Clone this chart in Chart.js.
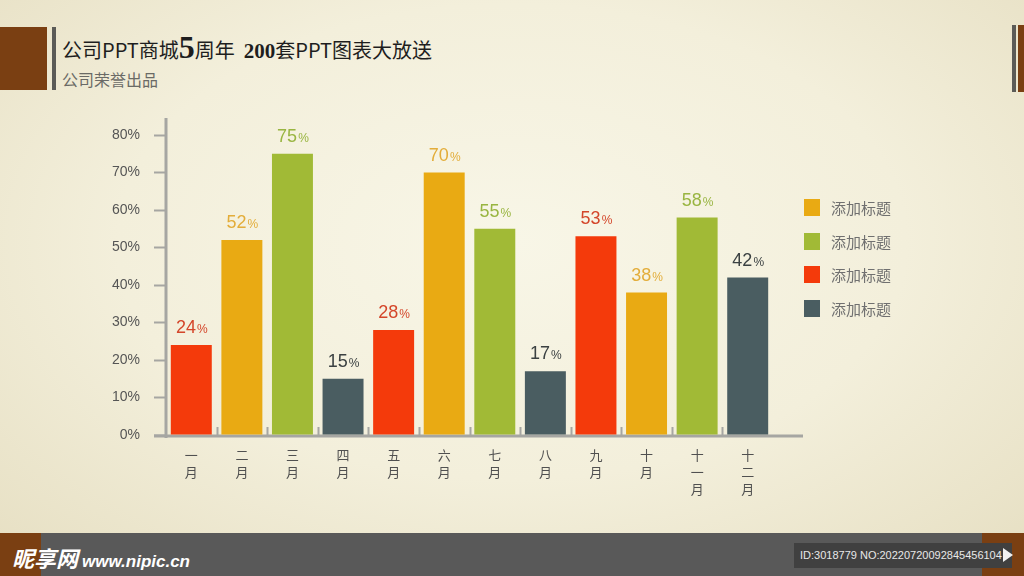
<!DOCTYPE html>
<html>
<head>
<meta charset="utf-8">
<title>公司PPT商城5周年</title>
<script src="https://cdn.jsdelivr.net/npm/chart.js@4/dist/chart.umd.min.js"></script>
<style>
  body {
    margin: 0;
    width: 1024px;
    height: 576px;
    overflow: hidden;
    position: relative;
    font-family: "Noto Sans CJK SC", "Noto Sans", sans-serif;
    background: radial-gradient(ellipse 70% 75% at 50% 42%, #f8f6e7 0%, #f3efdb 55%, #e7e0c4 100%);
  }
  .block { position: absolute; }
  #brandL { left: 0; top: 27px; width: 47px; height: 63px; background: #7a3f12; }
  #barL { left: 52px; top: 27px; width: 4px; height: 63px; background: #5b5b57; }
  #barR { left: 1012px; top: 25px; width: 4px; height: 67px; background: #5b5b57; }
  #brandR { left: 1018px; top: 25px; width: 6px; height: 67px; background: #7a3f12; }
  #title {
    position: absolute; left: 62px; top: 32px;
    font-size: 20px; color: #1e1e1e; white-space: pre; line-height: 30px;
  }
  #title .big { font-family: "Liberation Serif", serif; font-weight: bold; font-size: 32px; }
  #title .num { font-family: "Liberation Serif", serif; font-weight: bold; font-size: 21px; }
  #subtitle {
    position: absolute; left: 62px; top: 67px;
    font-size: 16px; color: #6a6a66;
  }
  #chart { position: absolute; left: 0; top: 0; }
  #legend { position: absolute; left: 804px; top: 199px; }
  .item { height: 33.5px; display: flex; align-items: flex-start; }
  .sw { width: 16px; height: 17px; margin-right: 11px; }
  .item span { font-size: 15px; color: #707070; line-height: 17px; }
  #footer { position: absolute; left: 0; top: 533px; width: 1024px; height: 43px; background: #595959; }
  #footL { position: absolute; left: 0; top: 0; width: 41px; height: 43px; background: #7a3f12; }
  #footR { position: absolute; right: 0; top: 0; width: 42px; height: 43px; background: #7a3f12; }
  #mark {
    position: absolute; left: 12px; top: 8px; color: #fff; white-space: nowrap;
    font-weight: bold; font-size: 22px; font-style: italic;
  }
  #mark i { font-family: "Liberation Sans", sans-serif; font-size: 17px; margin-left: 4px; }
  #idbox {
    position: absolute; left: 794px; top: 10px; width: 218px; height: 25px;
    background: #404040; color: #e8e8e8; font-family: "Liberation Sans Narrow", "Liberation Sans", sans-serif;
    font-size: 11px; line-height: 25px; padding-left: 6px; box-sizing: border-box; white-space: nowrap; overflow: hidden;
  }
  #arrow {
    position: absolute; left: 1003px; top: 15px; width: 0; height: 0;
    border-top: 7px solid transparent; border-bottom: 7px solid transparent; border-left: 10px solid #f2f2f2;
  }
</style>
</head>
<body>
<div class="block" id="brandL"></div>
<div class="block" id="barL"></div>
<div class="block" id="barR"></div>
<div class="block" id="brandR"></div>
<div id="title">公司PPT商城<span class="big">5</span>周年  <span class="num">200</span>套PPT图表大放送</div>
<div id="subtitle">公司荣誉出品</div>
<canvas id="chart" width="1024" height="533"></canvas>
<div id="legend"></div>
<div id="footer">
  <div id="footL"></div>
  <div id="footR"></div>
  <div id="mark">昵享网<i>www.nipic.cn</i></div>
  <div id="idbox">ID:3018779 NO:20220720092845456104</div>
  <div id="arrow"></div>
</div>
<script>
// months, stacked one character per line
const months = [
  ['一', '月'], ['二', '月'], ['三', '月'], ['四', '月'], ['五', '月'], ['六', '月'],
  ['七', '月'], ['八', '月'], ['九', '月'], ['十', '月'], ['十', '一', '月'], ['十', '二', '月']
];
const rates = [24, 52, 75, 15, 28, 70, 55, 17, 53, 38, 58, 42];
const yTicks = [0, 10, 20, 30, 40, 50, 60, 70, 80];

// colour cycle: red, orange, green, slate
const barColors = ['#f43a0b', '#e9aa13', '#a1ba36', '#4a5d61'];
const labelColors = ['#d4462a', '#e3ad3a', '#99b541', '#3b4142'];

const legendLabels = ['添加标题', '添加标题', '添加标题', '添加标题'];
const legendColors = ['#e9aa13', '#a1ba36', '#f43a0b', '#4a5d61'];

const legendBox = document.getElementById('legend');
legendLabels.forEach((txt, i) => {
  const row = document.createElement('div');
  row.className = 'item';
  row.innerHTML = '<div class="sw" style="background:' + legendColors[i] + '"></div><span>' + txt + '</span>';
  legendBox.appendChild(row);
});

const axisGray = '#a6a6a2';

// axis lines that run past the plot area, plus the small ticks between bars
const axisLines = {
  id: 'axisLines',
  beforeDatasetsDraw(chart) {
    const { ctx, chartArea: a } = chart;
    const catW = (a.right - a.left) / months.length;
    ctx.save();
    ctx.strokeStyle = axisGray;
    ctx.lineWidth = 3;
    ctx.beginPath();
    ctx.moveTo(a.left, a.top - 17);
    ctx.lineTo(a.left, a.bottom + 3);
    ctx.moveTo(a.left - 12, a.bottom + 1);
    ctx.lineTo(a.right + 30, a.bottom + 1);
    ctx.stroke();
    ctx.lineWidth = 2;
    ctx.beginPath();
    for (let i = 1; i < months.length; i++) {
      const x = Math.round(a.left + i * catW) + 0.5;
      ctx.moveTo(x, a.bottom);
      ctx.lineTo(x, a.bottom - 8);
    }
    ctx.stroke();
    ctx.restore();
  }
};

// "24%" style labels above each bar, small percent sign
const valueLabels = {
  id: 'valueLabels',
  afterDatasetsDraw(chart) {
    const { ctx } = chart;
    const meta = chart.getDatasetMeta(0);
    ctx.save();
    ctx.textBaseline = 'alphabetic';
    meta.data.forEach((bar, i) => {
      const num = String(rates[i]);
      const bigFont = '18px "Liberation Sans", Arial, sans-serif';
      const smallFont = '12px "Liberation Sans", Arial, sans-serif';
      ctx.font = bigFont;
      const w1 = ctx.measureText(num).width;
      ctx.font = smallFont;
      const w2 = ctx.measureText('%').width;
      const x0 = bar.x - (w1 + w2) / 2;
      const y = bar.y - 12;
      ctx.fillStyle = labelColors[i % 4];
      ctx.font = bigFont;
      ctx.textAlign = 'left';
      ctx.fillText(num, x0, y);
      ctx.font = smallFont;
      ctx.fillText('%', x0 + w1 + 1, y);
    });
    ctx.restore();
  }
};

new Chart(document.getElementById('chart'), {
  type: 'bar',
  data: {
    labels: months,
    datasets: [{
      data: rates,
      backgroundColor: rates.map((v, i) => barColors[i % 4]),
      barPercentage: 0.81,
      categoryPercentage: 1
    }]
  },
  options: {
    responsive: false,
    animation: false,
    layout: { padding: { top: 135, right: 251, left: 1, bottom: 0 } },
    plugins: { legend: { display: false }, tooltip: { enabled: false } },
    scales: {
      x: {
        grid: { display: false },
        border: { display: false },
        ticks: {
          color: '#505050',
          font: { size: 13, family: '"Noto Sans CJK SC", sans-serif', lineHeight: 1.3 },
          padding: 4,
          maxRotation: 0,
          autoSkip: false
        },
        afterFit(scale) { scale.height = 98; }
      },
      y: {
        min: 0,
        max: 80,
        afterBuildTicks(scale) { scale.ticks = yTicks.map(v => ({ value: v })); },
        grid: { drawOnChartArea: false, drawTicks: true, tickLength: 12, tickColor: axisGray, tickWidth: 2 },
        border: { display: false },
        ticks: {
          callback: v => v + '%',
          color: '#555555',
          font: { size: 14, family: '"Liberation Sans", Arial, sans-serif' },
          padding: 14
        },
        afterFit(scale) { scale.width = 165; }
      }
    }
  },
  plugins: [axisLines, valueLabels]
});
</script>
</body>
</html>
